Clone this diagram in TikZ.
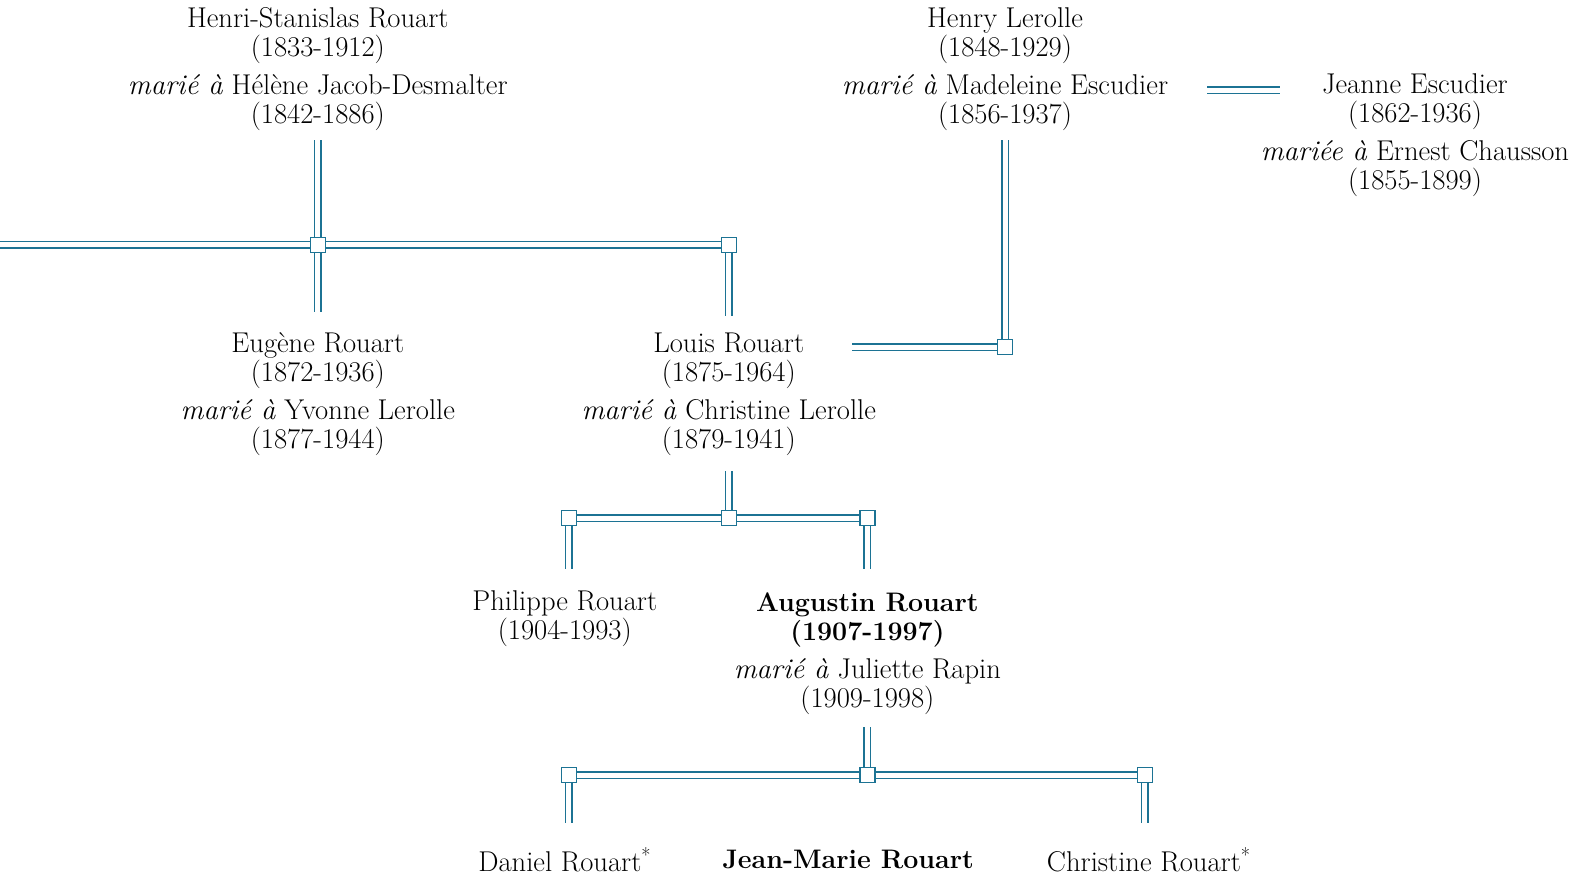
\documentclass[tikz,border=0pt]{standalone}
\usepackage{fontspec}
\usetikzlibrary{calc}
\definecolor{lineblue}{RGB}{28,115,148}
\newcommand\myTopStrut{\rule{0pt}{20pt}}
\newcommand\myBold[1]{{\fontsize{26.8pt}{29.35pt}\selectfont\bfseries #1}}
\begin{document}
\begin{tikzpicture}[x=1.0121pt,y=-1.0121pt,
  person/.style={anchor=north, align=center, inner sep=0pt, font=\fontsize{28.6pt}{29.35pt}\selectfont},
  dbl/.style={draw=lineblue, line width=1.6pt, double=white, double distance=5pt},
  jn/.style={rectangle, draw=lineblue, fill=white, line width=1.3pt, minimum size=15pt, inner sep=0pt}]
\useasboundingbox (0,0) rectangle (1568,871);

% people
\node[person] (HSR) at (314,7.2) {\myTopStrut Henri-Stanislas Rouart\\(1833-1912)\\[8.1pt]\textit{marié à} Hélène Jacob-Desmalter\\(1842-1886)};
\node[person] (HL) at (993,7.2) {\myTopStrut Henry Lerolle\\(1848-1929)\\[8.1pt]\textit{marié à} Madeleine Escudier\\(1856-1937)};
\node[person] (JE) at (1398,72.2) {\myTopStrut Jeanne Escudier\\(1862-1936)\\[8.1pt]\textit{mariée à} Ernest Chausson\\(1855-1899)};
\node[person] (ER) at (314,328.2) {\myTopStrut Eugène Rouart\\(1872-1936)\\[8.1pt]\textit{marié à} Yvonne Lerolle\\(1877-1944)};
\node[person] (LR) at (720,328.2) {\myTopStrut Louis Rouart\\(1875-1964)\\[8.1pt]\textit{marié à} Christine Lerolle\\(1879-1941)};
\node[person] (PR) at (558,583.2) {\myTopStrut Philippe Rouart\\(1904-1993)};
\node[person] (AR) at (857,584.2) {\myTopStrut\myBold{Augustin Rouart}\\\myBold{(1907-1997)}\\[8.1pt]\textit{marié à} Juliette Rapin\\(1909-1998)};
\node[person] (DR) at (558,837.2) {\myTopStrut Daniel Rouart\textsuperscript{*}};
\node[person] (JMR) at (838,838.2) {\myTopStrut\myBold{Jean-Marie Rouart}};
\node[person] (CR) at (1135,837.2) {\myTopStrut Christine Rouart\textsuperscript{*}};

% junctions
\node[jn] (J1) at (314,242) {};
\node[jn] (J2) at (720,242) {};
\node[jn] (J3) at (993,343) {};
\node[jn] (J4) at (720,512) {};
\node[jn] (J5) at (562,512) {};
\node[jn] (J6) at (857,512) {};
\node[jn] (J7) at (857,766) {};
\node[jn] (J8) at (562,766) {};
\node[jn] (J9) at (1131,766) {};

% free ends
\coordinate (L0) at (0,242);
\coordinate (LRr) at (842,343);
\coordinate (M1) at (1193,89);
\coordinate (M2) at (1265,89);

% connectors
\draw[dbl] (HSR.south) ++(0,9) -- (J1);
\draw[dbl] (J1) -- ++(0,66);
\draw[dbl] (L0) -- (J1);
\draw[dbl] (J1) -- (J2);
\draw[dbl] (J2) -- ++(0,70);
\draw[dbl] (HL.south) ++(0,9) -- (J3);
\draw[dbl] (J3) -- (LRr);
\draw[dbl] (M1) -- (M2);
\draw[dbl] (LR.south) ++(0,15) -- (J4);
\draw[dbl] (J4) -- (J5);
\draw[dbl] (J4) -- (J6);
\draw[dbl] (J5) -- ++(0,50);
\draw[dbl] (J6) -- ++(0,50);
\draw[dbl] (AR.south) ++(0,12) -- (J7);
\draw[dbl] (J7) -- (J8);
\draw[dbl] (J7) -- (J9);
\draw[dbl] (J8) -- ++(0,47);
\draw[dbl] (J9) -- ++(0,47);
\end{tikzpicture}
\end{document}
